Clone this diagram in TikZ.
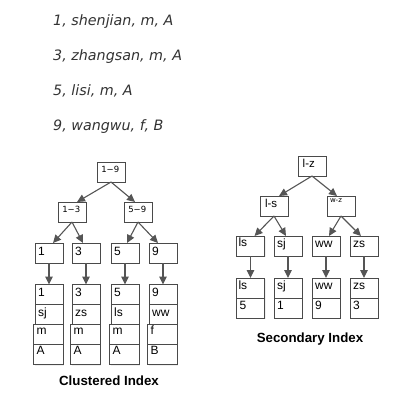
\documentclass[tikz,border=0pt]{standalone}
\usepackage{fontspec}
\setmainfont{Liberation Sans}
\newfontfamily\dejavu[ItalicFont={* Oblique}]{DejaVu Sans}
\usetikzlibrary{arrows.meta,shadows}
\definecolor{linegray}{HTML}{4A4A4A}
\definecolor{arrowgray}{HTML}{555555}
\definecolor{listtext}{HTML}{333333}
\begin{document}
\begin{tikzpicture}[x=1pt,y=-1pt,
  box/.style={draw=linegray, line width=0.9pt, fill=white, minimum width=28pt,
    minimum height=20pt, inner sep=0pt, outer sep=0pt, anchor=north west,
    drop shadow={shadow xshift=1.2pt, shadow yshift=-1.2pt, fill=black!12}},
  wbox/.style={box, minimum width=29.5pt},
  txt/.style={anchor=base west, inner sep=0pt, outer sep=0pt, font=\fontsize{12}{12}\selectfont},
  tinyt/.style={anchor=base west, inner sep=0pt, outer sep=0pt, font=\dejavu\fontsize{8.5}{8.5}\selectfont},
  wzt/.style={anchor=base west, inner sep=0pt, outer sep=0pt, font=\dejavu\fontsize{7}{7}\selectfont},
  midt/.style={anchor=base west, inner sep=0pt, outer sep=0pt, font=\fontsize{11.5}{11.5}\selectfont},
  % text placements
  tnode/.style={label={[tinyt,xshift=4.3pt,yshift=-10.6pt]north west:#1}},
  leaft/.style={label={[txt,xshift=3.2pt,yshift=-12.7pt]north west:#1}},
  rowt/.style={label={[txt,xshift=3.2pt,yshift=-11.6pt]north west:#1}},
  lowt/.style={label={[txt,xshift=3.2pt,yshift=-10.2pt]north west:#1}},
  sect/.style={label={[txt,xshift=3.2pt,yshift=-11.3pt]north west:#1}},
  arr/.style={draw=arrowgray, line width=1.1pt, -{Triangle[length=8pt,width=7.5pt]}},
  title/.style={anchor=base, inner sep=0pt, font=\bfseries\fontsize{13.3}{13.3}\selectfont},
  listline/.style={anchor=base west, inner sep=0pt, text=listtext,
    font=\dejavu\itshape\fontsize{14.3}{14.3}\selectfont}]
\useasboundingbox (0,0) rectangle (418,400);

% ---- record list ----
\node[listline] (t1) at (53,25) {1, shenjian, m, A};
\node[listline] (t2) at (53,60) {3, zhangsan, m, A};
\node[listline] (t3) at (53,95) {5, lisi, m, A};
\node[listline] (t4) at (53,130) {9, wangwu, f, B};

% ---- clustered index ----
\node[box, tnode=1−9] (r19) at (97,162) {};
\node[box, tnode=1−3] (r13) at (58,202) {};
\node[box, tnode=5−9] (r59) at (124,202) {};

\node[box, leaft=1] (l1) at (35,243) {};
\node[box, leaft=3] (l3) at (72,243) {};
\node[box, leaft=5] (l5) at (111,243) {};
\node[box, leaft=9] (l9) at (149,243) {};

% records
\node[box, rowt=1]  (c1a) at (35,284.5) {};
\node[box, rowt=sj] (c1b) at (35,304.5) {};
\node[wbox, lowt=m] (c1c) at (33.5,324.5) {};
\node[wbox, lowt=A] (c1d) at (33.5,344.5) {};

\node[box, rowt=3]  (c3a) at (72,284.5) {};
\node[box, rowt=zs] (c3b) at (72,304.5) {};
\node[wbox, lowt=m] (c3c) at (70.5,324.5) {};
\node[wbox, lowt=A] (c3d) at (70.5,344.5) {};

\node[box, rowt=5]  (c5a) at (111,284.5) {};
\node[box, rowt=ls] (c5b) at (111,304.5) {};
\node[wbox, lowt=m] (c5c) at (109.5,324.5) {};
\node[wbox, lowt=A] (c5d) at (109.5,344.5) {};

\node[box, rowt=9]  (c9a) at (149,284.5) {};
\node[box, rowt=ww] (c9b) at (149,304.5) {};
\node[wbox, lowt=f] (c9c) at (147.5,324.5) {};
\node[wbox, lowt=B] (c9d) at (147.5,344.5) {};

\draw[arr] (r19.south) -- ([xshift=5pt]r13.north);
\draw[arr] (r19.south) -- ([xshift=-3pt]r59.north);
\draw[arr] (r13.south) -- ([xshift=4pt]l1.north);
\draw[arr] (r13.south) -- ([xshift=-3pt]l3.north);
\draw[arr] (r59.south) -- ([xshift=2pt]l5.north);
\draw[arr] (r59.south) -- ([xshift=-5pt]l9.north);
\draw[arr] (l1.south) -- (c1a.north);
\draw[arr] (l3.south) -- (c3a.north);
\draw[arr] (l5.south) -- (c5a.north);
\draw[arr] (l9.south) -- (c9a.north);

\node[title] (ct) at (109,385.7) {Clustered Index};

% ---- secondary index ----
\node[box, label={[midt,xshift=4.7pt,yshift=-11.3pt]north west:l-z}] (sz) at (298,156) {};
\node[box, label={[midt,xshift=5pt,yshift=-11.3pt]north west:l-s}] (sls) at (260,196) {};
\node[box, label={[wzt,xshift=3pt,yshift=-6.7pt]north west:w-z}] (swz) at (327,196) {};

\node[box, label={[txt,xshift=2pt,yshift=-10.9pt]north west:ls}] (s1) at (236.5,236) {};
\node[box, sect=sj] (s2) at (274,236) {};
\node[box, sect=ww] (s3) at (312,236) {};
\node[box, sect=zs] (s4) at (350,236) {};

\node[box, label={[txt,xshift=2pt,yshift=-11.3pt]north west:ls}] (s1a) at (236.5,278) {};
\node[box, sect=5]  (s1b) at (236.5,298) {};
\node[box, sect=sj] (s2a) at (274,278) {};
\node[box, sect=1]  (s2b) at (274,298) {};
\node[box, sect=ww] (s3a) at (312,278) {};
\node[box, sect=9]  (s3b) at (312,298) {};
\node[box, sect=zs] (s4a) at (350,278) {};
\node[box, sect=3]  (s4b) at (350,298) {};

\draw[arr] (sz.south) -- ([xshift=5pt]sls.north);
\draw[arr] (sz.south) -- ([xshift=-4pt]swz.north);
\draw[arr] (sls.south) -- ([xshift=4pt]s1.north);
\draw[arr] (sls.south) -- ([xshift=-2pt]s2.north);
\draw[arr] (swz.south) -- ([xshift=3pt]s3.north);
\draw[arr] (swz.south) -- ([xshift=-3pt]s4.north);
\draw[arr] (s1.south) -- (s1a.north);
\draw[arr] (s2.south) -- (s2a.north);
\draw[arr] (s3.south) -- (s3a.north);
\draw[arr] (s4.south) -- (s4a.north);

\node[title] (st) at (310,342) {Secondary Index};
\end{tikzpicture}
\end{document}
